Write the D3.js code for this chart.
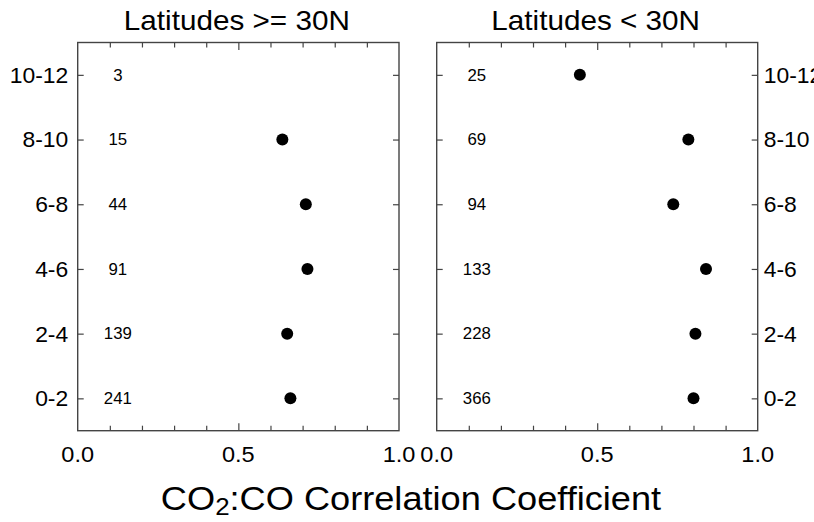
<!DOCTYPE html>
<html><head><meta charset="utf-8">
<script src="https://cdn.jsdelivr.net/npm/d3@7"></script>
<style>body{margin:0;background:#fff}svg{display:block}text{font-family:"Liberation Sans",Arial,Helvetica,sans-serif;fill:#000}</style>
</head><body>
<svg id="c" width="814" height="522"></svg>
<script>
const categories = ["0-2","2-4","4-6","6-8","8-10","10-12"];
const northCorr = [0.662, 0.652, 0.715, 0.710, 0.637, null];
const northCounts = [241, 139, 91, 44, 15, 3];
const southCorr = [0.800, 0.806, 0.839, 0.737, 0.784, 0.446];
const southCounts = [366, 228, 133, 94, 69, 25];
const titles = ["Latitudes >= 30N", "Latitudes < 30N"];
const xTickLabels = [0, 0.5, 1.0];

(function(){
const svg = d3.select("#c");
const yTop = 42.5, yBot = 430.7;
const y = d3.scaleLinear().domain([-0.5, 5.5]).range([yBot, yTop]);
const panels = [
  {x0: 77.7, x1: 399, corr: northCorr, counts: northCounts, title: titles[0], side: "left"},
  {x0: 436.7, x1: 757.7, corr: southCorr, counts: southCounts, title: titles[1], side: "right"}
];
const axisColor = "#444";
const minorTicks = d3.range(1, 10).map(d => d / 10).filter(d => d !== 0.5);

function stretchText(g, x, yy, sx, txt, anchor, size) {
  return g.append("text")
    .attr("transform", `translate(${x},${yy}) scale(${sx},1)`)
    .attr("text-anchor", anchor)
    .attr("font-size", size)
    .text(txt);
}

panels.forEach(p => {
  const x = d3.scaleLinear().domain([0, 1]).range([p.x0, p.x1]);
  const g = svg.append("g");
  g.append("rect").attr("x", p.x0).attr("y", yTop)
    .attr("width", p.x1 - p.x0).attr("height", yBot - yTop)
    .attr("fill", "none").attr("stroke", axisColor).attr("stroke-width", 1.4);

  const styleAxis = sel => { sel.select(".domain").remove(); sel.selectAll("line").attr("stroke", axisColor).attr("stroke-width", 1.2); sel.selectAll("text").remove(); };
  g.append("g").attr("transform", `translate(0,${yBot})`)
    .call(d3.axisBottom(x).tickValues(minorTicks).tickSize(-5)).call(styleAxis);
  g.append("g").attr("transform", `translate(0,${yBot})`)
    .call(d3.axisBottom(x).tickValues([0.5]).tickSize(-7.5)).call(styleAxis);
  g.append("g").attr("transform", `translate(0,${yTop})`)
    .call(d3.axisTop(x).tickValues(minorTicks).tickSize(-5)).call(styleAxis);
  g.append("g").attr("transform", `translate(0,${yTop})`)
    .call(d3.axisTop(x).tickValues([0.5]).tickSize(-7.5)).call(styleAxis);

  const yIdx = d3.range(categories.length);
  g.append("g").attr("transform", `translate(${p.x0},0)`)
    .call(d3.axisLeft(y).tickValues(yIdx).tickSize(-6)).call(styleAxis);
  g.append("g").attr("transform", `translate(${p.x1},0)`)
    .call(d3.axisRight(y).tickValues(yIdx).tickSize(-6)).call(styleAxis);

  categories.forEach((c, i) => {
    if (p.side === "left") stretchText(g, p.x0 - 9.5, y(i), 1.04, c, "end", 22).attr("dy", "0.36em");
    else stretchText(g, p.x1 + 6, y(i), 1.04, c, "start", 22).attr("dy", "0.36em");
  });

  p.counts.forEach((n, i) => {
    stretchText(g, x(0.125), y(i), 1.05, n, "middle", 16).attr("dy", "0.36em");
  });

  g.selectAll("circle").data(p.corr.map((v, i) => ({v, i})).filter(d => d.v != null))
    .join("circle")
    .attr("cx", d => x(d.v)).attr("cy", d => y(d.i)).attr("r", 6).attr("fill", "#000");

  xTickLabels.forEach(v => {
    stretchText(g, x(v), 462, 1.07, d3.format(".1f")(v), "middle", 22);
  });

  stretchText(g, (p.x0 + p.x1) / 2 - 1.5, 30, 1.06, p.title, "middle", 28);
});

const xt = svg.append("text")
  .attr("transform", `translate(411,510) scale(1.08,1)`)
  .attr("text-anchor", "middle").attr("font-size", 33.5);
xt.append("tspan").text("CO");
xt.append("tspan").attr("font-size", 24).attr("dy", 5).text("2");
xt.append("tspan").attr("dy", -5).text(":CO Correlation Coefficient");
})();
</script>
</body></html>
